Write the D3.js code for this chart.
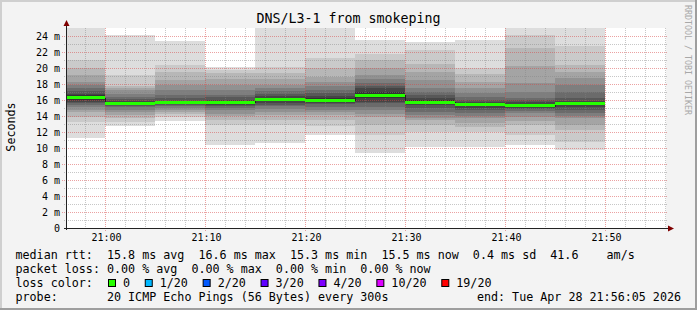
<!DOCTYPE html>
<html><head><meta charset="utf-8">
<script src="https://cdn.jsdelivr.net/npm/d3@7"></script>
<style>
html,body{margin:0;padding:0;background:#f3f3f3;}
svg{display:block;}
text{font-family:"DejaVu Sans Mono",monospace;fill:#000;}
</style>
</head><body>
<svg id="c" width="697" height="310"></svg>
<script>
// ---------------- data ----------------
const chartTitle = "DNS/L3-1 from smokeping";
const yAxisTitle = "Seconds";
const watermark = "RRDTOOL / TOBI OETIKER";
const day = "2026-04-28";
const graphStart = "20:56:05";
const graphEnd = "21:56:05";
const stepMinutes = 5;
const stepStarts = ["20:55","21:00","21:05","21:10","21:15","21:20","21:25","21:30","21:35","21:40","21:45"];
const medians = [16.3, 15.6, 15.7, 15.7, 16.1, 16.0, 16.6, 15.75, 15.45, 15.3, 15.55];
const lossPerStep = [0,0,0,0,0,0,0,0,0,0,0];
// 20 sorted ping RTTs (ms) per step
const pings = [
  [11.2,13.3,13.9,14.45,14.75,15.1,15.4,15.6,15.8,16.0, 16.6,16.8,17.1,17.5,17.9,18.3,19.1,20.0,21.0,25.5],
  [12.8,13.3,13.7,14.1,14.5,14.8,15.15,15.3,15.45,15.55, 15.7,15.9,16.1,16.4,16.8,17.25,17.5,17.75,19.1,24.1],
  [13.4,13.9,14.2,14.55,14.8,15.0,15.2,15.4,15.55,15.65, 15.75,15.9,16.2,16.6,17.25,17.9,18.5,19.5,20.4,23.4],
  [10.4,12.9,13.5,14.0,14.3,14.7,15.0,15.2,15.4,15.55, 15.85,16.0,16.4,16.6,17.25,17.9,18.6,19.4,19.8,20.15],
  [10.65,12.9,13.5,14.1,14.5,14.9,15.2,15.4,15.6,15.9, 16.3,16.45,16.7,17.1,17.5,17.9,18.6,19.4,20.15,25.5],
  [11.65,12.8,13.5,14.1,14.45,14.75,15.15,15.45,15.65,15.8, 16.2,16.5,16.85,17.25,17.7,18.3,18.9,20.0,21.2,25.5],
  [9.4,11.6,12.9,13.9,14.3,14.75,15.15,15.6,15.8,16.2, 17.0,17.5,17.7,18.1,18.6,19.1,20.0,21.0,21.8,23.5],
  [10.1,12.0,12.9,13.5,13.8,14.1,14.55,15.0,15.35,15.55, 15.95,16.2,16.6,17.0,17.45,18.5,19.5,20.5,22.25,23.3],
  [10.15,12.0,12.65,13.1,13.7,14.05,14.4,14.8,15.05,15.25, 15.65,15.8,16.0,16.4,16.9,17.45,18.3,19.2,20.0,23.5],
  [10.4,11.6,12.9,13.4,13.9,14.35,14.65,14.9,15.05,15.15, 15.45,15.7,15.95,16.2,17.0,18.1,20.3,22.45,24.1,25.5],
  [9.75,10.8,12.25,12.9,13.7,14.05,14.35,14.8,15.1,15.4, 15.7,15.9,16.2,17.0,17.9,18.8,19.55,20.4,22.8,25.5]
];
const xTicks = ["21:00","21:10","21:20","21:30","21:40","21:50"];
const yTicks = [0,2,4,6,8,10,12,14,16,18,20,22,24];
const yTickLabels = ["0","2 m","4 m","6 m","8 m","10 m","12 m","14 m","16 m","18 m","20 m","22 m","24 m"];
const yMax = 25;
const rttStats = ["15.8 ms avg","16.6 ms max","15.3 ms min","15.5 ms now","0.4 ms sd","41.6    am/s"];
const lossStats = ["0.00 % avg","0.00 % max","0.00 % min","0.00 % now"];
const lossLabels = ["0","1/20","2/20","3/20","4/20","10/20","19/20"];
const lossLevels = [0,1,2,3,4,10,19];
const lossColors = ["#26ff00","#00b8ff","#0059ff","#5e00ff","#7e00ff","#dd00ff","#ff0000"];
const probeText = "20 ICMP Echo Pings (56 Bytes) every 300s";
const endText = "end: Tue Apr 28 21:56:05 2026";

// ---------------- drawing ----------------
const parse = d3.utcParse("%Y-%m-%d %H:%M:%S");
const T = s => parse(day + " " + (s.length === 5 ? s + ":00" : s));
const svg = d3.select("#c");
const W = 697, H = 310;

svg.append("rect").attr("width", W).attr("height", H).attr("fill", "#f3f3f3");
svg.append("rect").attr("x",0).attr("y",0).attr("width",W).attr("height",2).attr("fill","#cfcfcf");
svg.append("rect").attr("x",0).attr("y",0).attr("width",2).attr("height",H).attr("fill","#cfcfcf");
svg.append("rect").attr("x",0).attr("y",H-2).attr("width",W).attr("height",2).attr("fill","#9e9e9e");
svg.append("rect").attr("x",W-2).attr("y",0).attr("width",2).attr("height",H).attr("fill","#9e9e9e");

const t0 = T(graphStart), t1 = T(graphEnd);
const x = d3.scaleUtc().domain([t0, t1]).range([65.833, 665.833]);
const y = d3.scaleLinear().domain([0, yMax]).range([228, 28]);
const PL = 66, PR = 666, PT = 28, PB = 228;

svg.append("rect").attr("x", PL).attr("y", PT).attr("width", PR-PL).attr("height", PB-PT).attr("fill", "#fff");
svg.append("defs").append("clipPath").attr("id","pc")
  .append("rect").attr("x", PL).attr("y", PT).attr("width", PR-PL).attr("height", PB-PT);

// smoke
const smoke = svg.append("g").attr("clip-path","url(#pc)").attr("shape-rendering","crispEdges");
const half = 10;
stepStarts.forEach((s, c) => {
  const a = T(s), b = d3.utcMinute.offset(a, stepMinutes);
  const x0 = Math.round(Math.max(x(a), PL)), x1 = Math.round(x(b));
  const p = pings[c];
  for (let i = 1; i <= half; i++) {
    const g = Math.floor(190 / half * (half - i)) + 50;
    const lo = p[i-1], hi = p[20 - i];
    const yt = Math.round(y(hi)), yb = Math.round(y(lo));
    smoke.append("rect").attr("x", x0).attr("y", yt).attr("width", x1 - x0).attr("height", Math.max(0, yb - yt))
      .attr("fill", d3.rgb(g, g, g));
  }
});

// grid
const grid = svg.append("g").attr("shape-rendering","crispEdges").attr("stroke-dasharray","1,1").attr("fill","none");
const minorC = "rgba(130,130,130,0.45)", majorC = "rgba(215,70,70,0.5)";
for (let v = 1; v < yMax; v += 2) {
  grid.append("line").attr("x1", PL-2).attr("x2", PR+2).attr("y1", Math.round(y(v))+0.5).attr("y2", Math.round(y(v))+0.5).attr("stroke", minorC);
}
d3.utcMinute.every(2).range(t0, d3.utcSecond.offset(t1, 1)).forEach(d => {
  if (d.getUTCMinutes() % 10 === 0) return;
  const xx = Math.round(x(d)) + 0.5;
  grid.append("line").attr("x1", xx).attr("x2", xx).attr("y1", PT).attr("y2", PB+2).attr("stroke", minorC);
});
yTicks.forEach(v => {
  if (v === 0) return;
  grid.append("line").attr("x1", PL-4).attr("x2", PR+2).attr("y1", Math.round(y(v))+0.5).attr("y2", Math.round(y(v))+0.5).attr("stroke", majorC);
});
xTicks.forEach(s => {
  const xx = Math.round(x(T(s))) + 0.5;
  grid.append("line").attr("x1", xx).attr("x2", xx).attr("y1", PT).attr("y2", PB+3).attr("stroke", majorC);
});

// median connector line (thin dark) then loss-coloured median bars
const medPts = stepStarts.map((s, c) => [Math.max(x(T(s)), PL), medians[c]]);
medPts.push([x(d3.utcMinute.offset(T(stepStarts[stepStarts.length-1]), stepMinutes)), medians[medians.length-1]]);
svg.append("path").attr("d", d3.line().x(d => Math.round(d[0])).y(d => Math.round(y(d[1]))+0.5).curve(d3.curveStepAfter)(medPts))
  .attr("fill","none").attr("stroke","#202020").attr("stroke-width",1).attr("shape-rendering","crispEdges");
const colorForLoss = l => { let k = 0; lossLevels.forEach((lv, i) => { if (l >= lv) k = i; }); return lossColors[k]; };
stepStarts.forEach((s, c) => {
  const a = T(s), b = d3.utcMinute.offset(a, stepMinutes);
  const x0 = Math.round(Math.max(x(a), PL)), x1 = Math.round(x(b));
  const ym = Math.round(y(medians[c]) - 1.5);
  svg.append("rect").attr("x", x0).attr("y", ym).attr("width", x1 - x0).attr("height", 3)
    .attr("fill", colorForLoss(lossPerStep[c])).attr("shape-rendering","crispEdges");
});

// axes lines + arrows
svg.append("line").attr("x1", PL-2).attr("x2", 669).attr("y1", PB+0.5).attr("y2", PB+0.5).attr("stroke","#222").attr("shape-rendering","crispEdges");
svg.append("line").attr("x1", PL+0.5).attr("x2", PL+0.5).attr("y1", PB+2).attr("y2", 24).attr("stroke","#222").attr("shape-rendering","crispEdges");
svg.append("polygon").attr("points", "668,225.5 674,228.5 668,231.5").attr("fill","#7f0000");
svg.append("polygon").attr("points", "63.5,26 66.5,20 69.5,26").attr("fill","#7f0000");

// tick labels via d3 axes
const ax = svg.append("g").attr("transform", `translate(0,${PB})`)
  .call(d3.axisBottom(x).tickValues(xTicks.map(T)).tickFormat((d, i) => xTicks[i]).tickSize(0).tickPadding(6));
ax.select(".domain").remove();
ax.selectAll("text").attr("font-family","DejaVu Sans Mono").attr("font-size","10px").attr("dx", 1);
const ay = svg.append("g").attr("transform", `translate(${PL},0)`)
  .call(d3.axisLeft(y).tickValues(yTicks).tickFormat((d, i) => yTickLabels[i]).tickSize(0).tickPadding(6));
ay.select(".domain").remove();
ay.selectAll("text").attr("font-family","DejaVu Sans Mono").attr("font-size","10px");
[ax, ay].forEach(g => g.attr("font-family", null).attr("font-size", null));

// titles
svg.append("text").attr("x", 348.5).attr("y", 23).attr("text-anchor","middle").attr("font-size","13.3px").text(chartTitle);
svg.append("text").attr("transform","translate(14.5,127) rotate(-90)").attr("text-anchor","middle").attr("font-size","11.7px").text(yAxisTitle);
svg.append("text").attr("transform","translate(685,5) rotate(90)").attr("font-size","8.3px").style("fill","#a8a8a8").text(watermark);

// legend
const LX = 15.5, CW = 7.05;
const leg = (txt, yy) => svg.append("text").attr("x", LX).attr("y", yy).attr("font-size","11.7px")
  .attr("xml:space","preserve").style("white-space","pre").text(txt);
leg("median rtt:  " + rttStats.join("  "), 258.5);
leg("packet loss: " + lossStats.join("  "), 272.5);
leg("loss color:", 286.5);
let sx = 108;
lossLabels.forEach((lab, i) => {
  svg.append("rect").attr("x", sx + 0.5).attr("y", 279.5).attr("width", 7).attr("height", 7)
    .attr("fill", lossColors[i]).attr("stroke", "#000").attr("stroke-width", 1);
  const tx = sx + 15;
  svg.append("text").attr("x", tx).attr("y", 286.5).attr("font-size","11.7px").text(lab);
  sx = tx + lab.length * CW + 14.7;
});
leg("probe:       " + probeText, 300.5);
svg.append("text").attr("x", 681).attr("y", 300.5).attr("text-anchor","end").attr("font-size","11.7px").text(endText);
</script>
</body></html>
